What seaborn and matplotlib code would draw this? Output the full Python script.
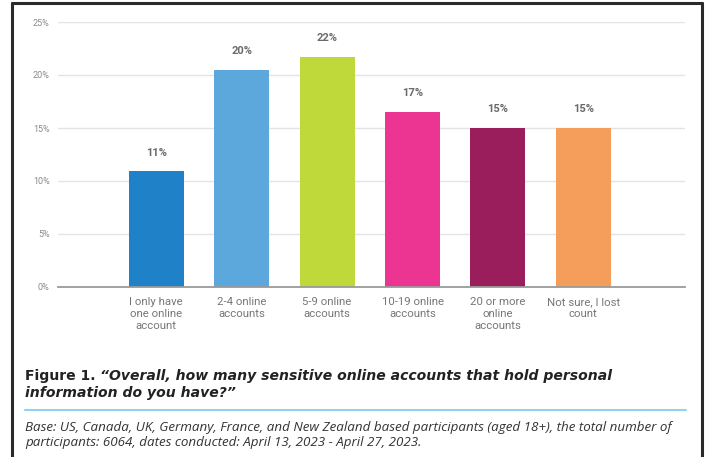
import matplotlib
matplotlib.use("Agg")
import matplotlib.pyplot as plt
import seaborn as sns
import pandas as pd
from matplotlib.lines import Line2D

categories = ["I only have\none online\naccount", "2-4 online\naccounts", "5-9 online\naccounts",
              "10-19 online\naccounts", "20 or more\nonline\naccounts", "Not sure, I lost\ncount"]
values = [10.9, 20.5, 21.7, 16.5, 15.0, 15.0]
value_labels = ["11%", "20%", "22%", "17%", "15%", "15%"]
colors = ["#1f82c8", "#5ca7db", "#c0d93a", "#ec3592", "#9a1e5c", "#f59d5b"]
yticks = [0, 5, 10, 15, 20, 25]
ytick_labels = ["0%", "5%", "10%", "15%", "20%", "25%"]

title_lead = "Figure 1. "
title_quote_1 = "\u201cOverall, how many sensitive online accounts that hold personal"
title_quote_2 = "information do you have?\u201d"
base_line_1 = "Base: US, Canada, UK, Germany, France, and New Zealand based participants (aged 18+), the total number of"
base_line_2 = "participants: 6064, dates conducted: April 13, 2023 - April 27, 2023."

sns.set_theme(style="white")
plt.rcParams["font.family"] = ["Roboto", "DejaVu Sans"]

W, H = 706, 457
fig = plt.figure(figsize=(W / 100, H / 100), dpi=100)
fig.patch.set_facecolor("white")

def px(x0, y0, x1, y1):
    return [x0 / W, 1 - y1 / H, (x1 - x0) / W, (y1 - y0) / H]

ax = fig.add_axes(px(58, 22, 685, 287))
df = pd.DataFrame({"cat": categories, "val": values})
sns.barplot(data=df, x="cat", y="val", hue="cat", palette=colors, legend=False,
            width=0.645, ax=ax, saturation=1, edgecolor="none")
ax.set_xlim(-1.15, 6.19)
ax.set_ylim(0, 25)
ax.set_yticks(yticks)
ax.set_yticklabels(ytick_labels, fontsize=6.5, color="#8a8a8a")
ax.tick_params(axis="y", length=0, pad=6)
ax.tick_params(axis="x", length=0, pad=7)
ax.set_xticks(range(len(categories)))
ax.set_xticklabels(categories, fontsize=8.2, color="#777777", linespacing=1.25)
ax.set_xlabel("")
ax.set_ylabel("")
ax.grid(axis="y", color="#e4e4e4", linewidth=1)
ax.set_axisbelow(True)
for s in ["top", "right", "left"]:
    ax.spines[s].set_visible(False)
ax.spines["bottom"].set_color("#9a9a9a")
ax.spines["bottom"].set_linewidth(1.3)

for i, (v, lab) in enumerate(zip(values, value_labels)):
    ax.annotate(lab, (i, v), xytext=(0, 10), textcoords="offset points",
                ha="center", va="bottom", fontsize=8, fontweight="bold", color="#6a6a6a")

# frame
for xs, ys in [([12, 12], [457, 3]), ([12, 702], [3, 3]), ([702, 702], [457, 3])]:
    fig.add_artist(Line2D([x / W for x in xs], [1 - y / H for y in ys], color="#2a2a2a",
                          linewidth=2.2, transform=fig.transFigure))

r = fig.canvas.get_renderer()

def fy(y):
    return 1 - y / H

tfont = ["DejaVu Sans"]
bfont = ["Open Sans", "DejaVu Sans"]

# title (sized so that line 1 ends near x=613 px)
def draw_title(size):
    a = fig.text(25 / W, fy(380), title_lead, fontsize=size, fontweight="bold",
                 color="#222222", va="baseline", ha="left", family=tfont)
    bb = a.get_window_extent(renderer=r)
    b = fig.text(bb.x1 / W, fy(380), title_quote_1, fontsize=size, fontweight="bold", style="italic",
                 color="#222222", va="baseline", ha="left", family=tfont)
    return a, b

a, b = draw_title(10.0)
end = b.get_window_extent(renderer=r).x1
size = 10.0 * (613 - 25) / (end - 25)
a.remove(); b.remove()
draw_title(size)
fig.text(25 / W, fy(397), title_quote_2, fontsize=size, fontweight="bold",
         style="italic", color="#222222", va="baseline", ha="left", family=tfont)

# blue rule
fig.add_artist(Line2D([25 / W, 686 / W], [fy(410), fy(410)], color="#8fd3ec", linewidth=1.5,
                      transform=fig.transFigure))

# base text (sized so that line 1 ends near x=673 px)
c = fig.text(25 / W, fy(431), base_line_1, fontsize=9.0, style="italic", color="#333333",
             va="baseline", ha="left", family=bfont)
e = c.get_window_extent(renderer=r).x1
bsize = 9.0 * (673 - 25) / (e - 25)
c.set_fontsize(bsize)
fig.text(25 / W, fy(446), base_line_2, fontsize=bsize, style="italic", color="#333333",
         va="baseline", ha="left", family=bfont)

fig.savefig("out.png", dpi=100, facecolor="white")
